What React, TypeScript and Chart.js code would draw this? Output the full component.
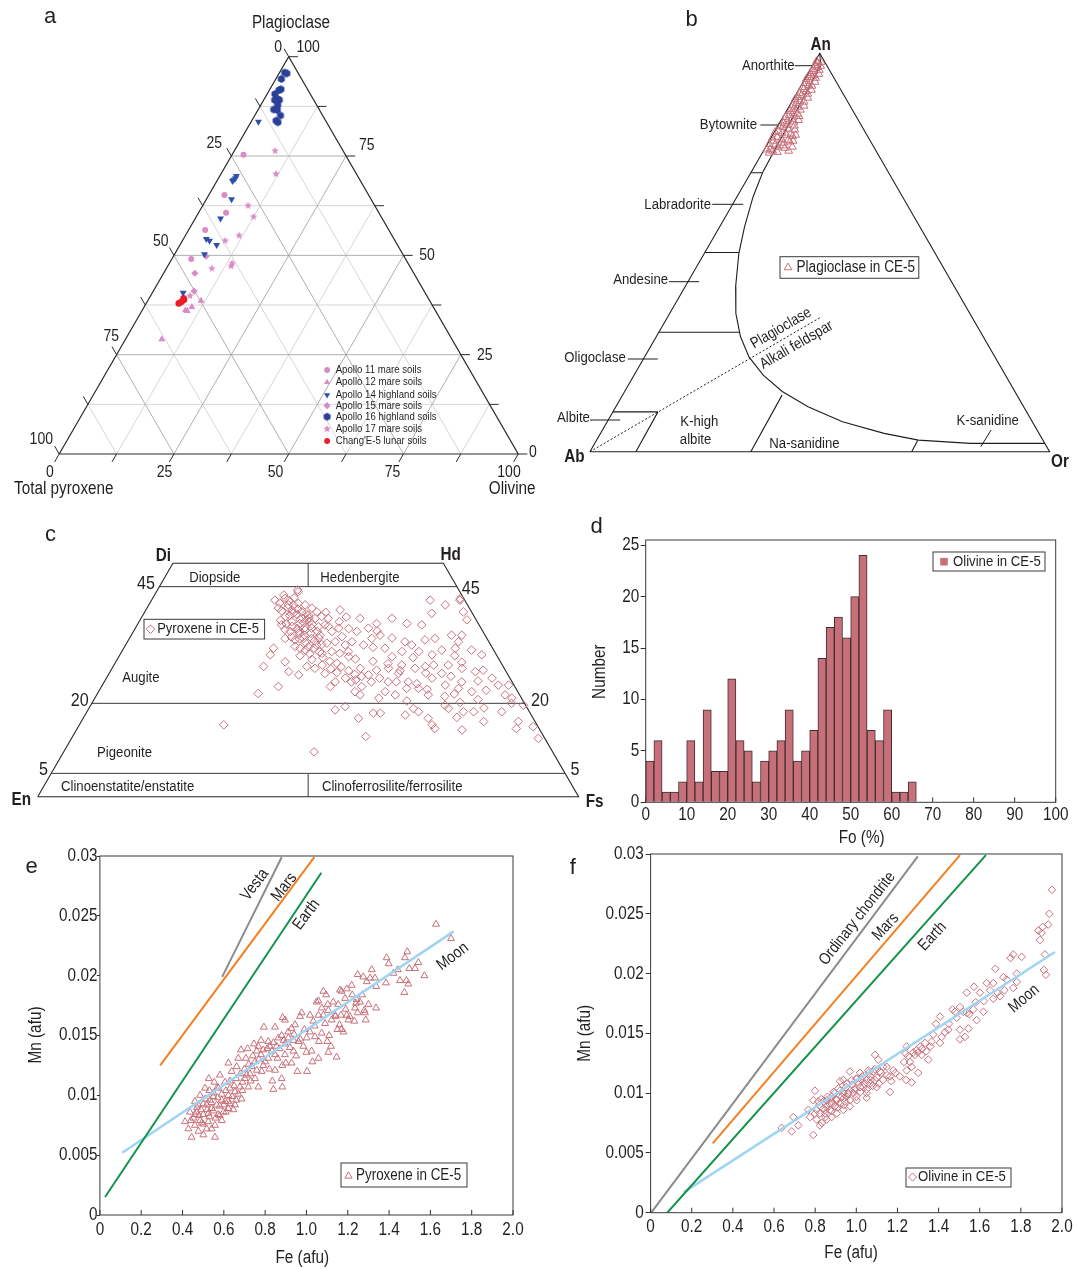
import React, { useEffect, useRef } from 'react';
import { Chart, registerables } from 'chart.js';

Chart.register(...registerables);

const W = 1082;
const H = 1269;

// ================= DATA =================
// Panel a: [plagioclase %, olivine %]
const ternaryLevels = [12.5, 25, 37.5, 50, 62.5, 75, 87.5];
const ternaryTickLevels = [0, 12.5, 25, 37.5, 50, 62.5, 75, 87.5, 100];
const apollo11 = [[75.3, 2.5], [65.2, 3.4], [60.7, 6.0], [56.4, 3.6], [49.1, 4.2]];
const apollo12 = [[38.6, 11.6], [37.0, 10.4], [36.2, 9.4], [36.0, 9.9], [28.9, 7.9]];
const apollo14 = [[83.6, 1.6], [70.0, 3.6], [69.4, 3.7], [69.0, 3.5], [68.7, 3.4], [64.1, 5.5], [59.3, 5.5], [54.1, 5.0], [53.7, 5.9], [52.6, 8.0], [50.3, 6.5], [40.6, 6.7]];
const apollo15 = [[49.8, 7.1], [45.5, 6.8], [41.0, 8.9]];
const apollo16 = [[96.0, 1.1], [95.8, 1.7], [94.4, 1.2], [91.8, 2.4], [91.6, 2.1], [90.6, 1.7], [89.3, 3.0], [89.1, 3.4], [89.1, 2.4], [87.8, 3.7], [86.7, 3.4], [86.6, 4.2], [85.2, 5.6], [83.9, 5.3], [83.5, 5.9]];
const apollo17 = [[76.3, 8.9], [70.5, 12.0], [62.5, 9.9], [59.7, 12.5], [55.0, 11.7], [53.7, 9.3], [48.0, 13.7], [47.3, 13.8], [46.7, 9.9], [39.8, 8.6]];
const ce5Soils = [[39.2, 7.5], [38.8, 7.8], [37.9, 7.1], [38.3, 7.5]];

// Panel b: [An %, Or %]
const plagioclaseCE5 = [[98, 0.3], [97.5, 0.8], [97, 0.5], [96.5, 1.2], [96, 0.6], [95.5, 1.0], [95, 0.4], [94.5, 1.5], [94, 0.8], [93.5, 0.3], [93, 1.2], [92.5, 0.7], [92, 1.6], [91.5, 0.5], [91, 1.0], [90.5, 1.8], [90, 0.6], [89.5, 1.3], [89, 0.9], [88.5, 0.4], [88, 1.6], [87.5, 1.1], [87, 0.7], [86.5, 2.0], [86, 1.3], [85.5, 0.8], [85, 1.7], [84.5, 1.1], [84, 0.6], [83.5, 2.2], [83, 1.4], [82.5, 0.9], [82, 1.9], [81.5, 1.2], [81, 2.6], [80.5, 0.8], [80, 1.8], [79.5, 3.0], [79, 1.3], [78.5, 2.4], [78, 0.9], [77.5, 3.4], [77, 1.8], [76.5, 2.6], [76, 1.2], [75.5, 2.0], [75, 1.5], [79.8, 3.8], [78.2, 4.0], [76.8, 3.6], [84.8, 2.8], [82.8, 3.0],
  [97.8, 1.4], [96.8, 1.8], [95.8, 2.0], [94.8, 2.4], [93.8, 2.2], [92.8, 2.6], [91.8, 2.4], [90.8, 2.8], [89.8, 2.5], [88.8, 3.0], [87.8, 2.7], [86.8, 3.2], [85.8, 2.9], [84.2, 3.4], [83.2, 3.8], [81.8, 3.6], [80.8, 4.2], [79.2, 4.5], [77.8, 4.6], [76.2, 4.3], [75.2, 3.2], [75.8, 0.6], [77.2, 0.4], [78.8, 0.3], [80.2, 0.2], [81.8, 0.4], [75.5, 5.5], [76.5, 5.8], [78, 5.2], [79.5, 5.0]];
const feldsparSolvus = [[100, 0], [97.1, 1.7], [86.6, 2.1], [77.4, 2.3], [70.3, 2.5], [64.0, 3.5], [56.5, 5.4], [49.8, 7.5], [41.4, 11.0], [34.7, 14.4], [28.9, 18.3], [23.8, 22.7], [19.2, 28.1], [15.1, 34.3], [11.3, 41.8], [7.5, 51.2], [4.6, 61.7], [2.9, 70.0], [2.1, 81.7], [2.1, 97.9]];
const plagTieAn = [70, 50, 30, 10];
const plagTieOrEnd = [2.5, 7.4, 17.5, 9.8];
const albiteBox = [[10, 9.8], [0, 10]];
const naSanidineLine = [[0, 35], [14.2, 34.7]];
const kSanidineLine = [[0, 70], [2.8, 69.9]];
const plagAlkaliDivide = [[0, 0], [33.7, 33.3]];

// Panel c: [Wo %, Fs %]
const pyxWoLevels = [45, 20, 5];
const pyroxeneCE5 = [[43.9, 26.2], [42.6, 26.1], [42.5, 24.5], [42.1, 22.8], [40.4, 24.3], [41.1, 25.8], [41.4, 27.5], [41.1, 28.9], [40.4, 30.5], [39.6, 31.8], [38.9, 30.6], [39.6, 29.0], [39.3, 27.6], [38.6, 26.5], [36.8, 26.7], [37.5, 28.2], [37.1, 29.9], [37.9, 30.8], [38.2, 32.2], [38.6, 33.2], [38.2, 34.6], [36.8, 34.7], [36.4, 33.7], [36.1, 32.6], [35.7, 31.6], [35.4, 30.5], [35.4, 29.0], [33.9, 28.8], [33.6, 30.8], [33.9, 32.2], [33.9, 33.7], [34.6, 34.9], [35.4, 36.7], [36.1, 37.6], [40.0, 35.9], [34.3, 39.1], [33.2, 38.4], [32.9, 37.0], [32.5, 35.3], [32.1, 34.0], [31.8, 32.6], [32.5, 40.6], [33.2, 41.5], [35.4, 41.3], [38.2, 40.5], [36.1, 43.1], [37.1, 44.1], [34.6, 46.0], [33.9, 44.8], [32.5, 44.0], [31.1, 41.9], [30.7, 40.5], [31.1, 38.8], [30.7, 37.2],
  [27.9, 27.8], [22.1, 29.7], [23.6, 32.7], [31.8, 27.7], [30.4, 27.8], [28.9, 31.3], [26.8, 33.0], [26.1, 35.2], [27.9, 35.8], [27.5, 37.5], [26.4, 39.9], [23.6, 42.3], [24.6, 42.7], [25.4, 44.2], [22.5, 47.4], [24.6, 45.7], [27.5, 45.9], [26.1, 48.1], [27.1, 49.1], [24.6, 49.4], [23.6, 48.1], [21.8, 48.7],
  [38.2, 46.4], [37.1, 49.7], [33.2, 51.3], [36.8, 52.6], [33.6, 54.8], [42.1, 51.5], [41.1, 54.8], [42.1, 57.0], [39.6, 58.9], [39.3, 53.2], [31.8, 48.3], [30.0, 50.5], [31.1, 51.8], [32.5, 52.9], [31.1, 54.9], [30.4, 57.7], [31.4, 59.0], [31.8, 61.3], [33.2, 61.2], [31.4, 64.5], [30.4, 66.9], [34.6, 61.1], [34.6, 59.2], [33.9, 56.5], [27.5, 51.1], [26.4, 53.5], [24.6, 56.2], [27.5, 56.0], [27.9, 57.7], [28.2, 59.1], [26.4, 61.5], [28.2, 61.8], [27.5, 64.7], [26.8, 67.5], [27.1, 68.8], [25.4, 71.3], [23.9, 73.2], [23.9, 75.1], [21.8, 75.5], [21.1, 77.1], [23.2, 58.8], [23.2, 56.6], [21.8, 55.2], [22.5, 53.0], [21.1, 52.5], [21.8, 61.3], [23.9, 63.4], [23.2, 66.2], [22.5, 69.0], [24.6, 66.1], [25.4, 60.2], [24.6, 52.5], [28.2, 53.2],
  [18.6, 45.7], [19.3, 47.2], [16.8, 50.9], [17.9, 53.1], [17.9, 54.4], [17.5, 59.2], [18.9, 60.0], [18.2, 61.3], [16.8, 63.8], [15.4, 65.2], [14.6, 66.1], [19.6, 65.5], [18.9, 66.5], [14.3, 71.3], [18.2, 69.6], [18.2, 71.5], [16.1, 74.4], [18.2, 76.7], [16.1, 80.8], [14.6, 81.2], [15.0, 84.1], [12.5, 86.3], [19.6, 80.0], [20.0, 77.6],
  [15.4, 26.7], [9.6, 46.3], [12.9, 54.2], [44.3, 25.9], [43.2, 23.9], [42.4, 56.9], [37.9, 60.4],
  [40.0, 27.0], [39.0, 28.5], [37.0, 27.5], [38.0, 29.5], [36.0, 30.0], [40.5, 26.0], [35.0, 33.0], [34.0, 35.0], [37.5, 31.5], [36.5, 35.5],
  [42.0, 25.5], [41.5, 24.0], [41.0, 26.8], [40.2, 28.0], [39.8, 25.2], [39.2, 30.0], [38.8, 27.2], [38.3, 31.0], [37.8, 26.0], [37.3, 30.5], [36.9, 32.3], [36.5, 28.8], [36.2, 31.3], [35.8, 27.8], [35.4, 34.0], [35.0, 30.8], [34.6, 32.0], [34.2, 29.8], [33.8, 31.5], [33.4, 34.5], [33.0, 33.0], [32.6, 36.2], [32.2, 31.5], [31.8, 35.2], [31.4, 33.8], [31.0, 36.6], [30.6, 35.0], [30.2, 33.4], [29.8, 37.8], [29.4, 36.0], [29.0, 39.5], [28.6, 41.0], [28.2, 38.5], [27.8, 42.2], [27.4, 40.5], [27.0, 44.0], [26.6, 42.0], [26.2, 45.5], [25.8, 47.0], [25.4, 50.5], [25.0, 46.3], [24.6, 54.0], [24.2, 58.0], [29.5, 44.0], [29.0, 47.5], [28.5, 50.5], [29.8, 54.5], [30.2, 62.0], [28.8, 64.0], [26.5, 58.5], [25.8, 63.5], [24.8, 69.0], [22.8, 71.5], [20.8, 71.0], [21.5, 64.5], [20.5, 58.0], [20.2, 68.0], [19.0, 73.0], [17.0, 69.0], [34.0, 48.5], [35.5, 45.0], [36.0, 39.5], [37.5, 37.0], [38.5, 37.8], [39.5, 33.5], [30.0, 42.5], [32.0, 46.0], [27.0, 53.5], [23.0, 60.5], [22.0, 66.0]];

// Panel d: olivine Fo histogram (2 % bins)
const foBinStart = [0, 2, 4, 6, 8, 10, 12, 14, 16, 18, 20, 22, 24, 26, 28, 30, 32, 34, 36, 38, 40, 42, 44, 46, 48, 50, 52, 54, 56, 58, 60, 62, 64];
const olivineCounts = [4, 6, 1, 1, 2, 6, 2, 9, 3, 3, 12, 6, 5, 2, 4, 5, 6, 9, 4, 5, 7, 14, 17, 18, 16, 20, 24, 7, 6, 9, 1, 1, 2];

// Panel e: pyroxene [Fe afu, Mn afu]
const vestaE = [[0.592, 0.0199], [0.880, 0.0299]];
const marsE = [[0.292, 0.0125], [1.038, 0.0299]];
const earthE = [[0.025, 0.0015], [1.072, 0.0286]];
const moonE = [[0.108, 0.0052], [1.713, 0.0237]];
const pyroxeneFeMn = [[1.627, 0.0243], [1.700, 0.0231], [1.388, 0.0215], [1.477, 0.0215], [1.488, 0.0220], [1.398, 0.0210], [1.542, 0.0211], [1.571, 0.0200], [1.474, 0.0186], [1.493, 0.0193], [1.484, 0.0196], [1.338, 0.0191], [1.385, 0.0194], [1.421, 0.0202], [1.442, 0.0205], [1.498, 0.0206], [1.526, 0.0206], [1.453, 0.0196], [1.332, 0.0198], [1.316, 0.0205], [1.275, 0.0199], [1.248, 0.0201], [1.308, 0.0198], [1.292, 0.0195], [1.219, 0.0192], [1.195, 0.0189], [1.170, 0.0187], [1.162, 0.0188], [1.095, 0.0184], [1.082, 0.0187], [1.058, 0.0179], [1.049, 0.0178], [1.103, 0.0176], [1.074, 0.0173], [1.130, 0.0178], [1.154, 0.0176], [1.187, 0.0181], [1.222, 0.0184], [1.243, 0.0180], [1.259, 0.0178], [1.280, 0.0171], [1.287, 0.0163], [1.232, 0.0162], [1.203, 0.0163], [1.170, 0.0155], [1.337, 0.0173], [1.283, 0.0169], [1.248, 0.0169], [1.167, 0.0167], [1.138, 0.0167], [1.122, 0.0163], [1.106, 0.0171], [1.082, 0.0167], [1.058, 0.0167], [1.033, 0.0162], [1.017, 0.0167], [0.977, 0.0169], [0.969, 0.0166], [0.885, 0.0165], [0.896, 0.0163], [0.794, 0.0157], [0.848, 0.0157], [0.928, 0.0156], [0.945, 0.0159], [0.912, 0.0153], [0.880, 0.0150], [0.864, 0.0148], [0.815, 0.0145], [0.780, 0.0146], [0.746, 0.0143], [0.715, 0.0139], [0.683, 0.0138], [0.670, 0.0131], [0.707, 0.0131], [0.759, 0.0137], [0.791, 0.0138], [0.832, 0.0137], [0.856, 0.0141], [0.896, 0.0143], [0.937, 0.0146], [0.961, 0.0145], [1.001, 0.0148], [1.017, 0.0153], [1.041, 0.0149], [1.074, 0.0152], [1.101, 0.0145], [1.119, 0.0141], [1.150, 0.0155], [1.179, 0.0153], [0.985, 0.0141], [1.025, 0.0137], [1.058, 0.0131], [1.106, 0.0136], [1.146, 0.0132], [1.029, 0.0128], [1.003, 0.0120], [0.956, 0.0120], [0.928, 0.0127], [0.883, 0.0125], [0.848, 0.0121], [0.835, 0.0112], [0.880, 0.0114], [0.883, 0.0107], [0.840, 0.0105], [0.767, 0.0107], [0.751, 0.0114], [0.727, 0.0118], [0.702, 0.0114], [0.678, 0.0107], [0.654, 0.0103], [0.622, 0.0100], [0.606, 0.0111], [0.573, 0.0106], [0.527, 0.0114], [0.554, 0.0111], [0.509, 0.0106], [0.485, 0.0100], [0.460, 0.0095], [0.436, 0.0086], [0.412, 0.0078], [0.444, 0.0065], [0.477, 0.0070], [0.557, 0.0065], [0.525, 0.0078], [0.573, 0.0084], [0.622, 0.0089], [0.654, 0.0092], [0.606, 0.0095], [0.541, 0.0089], [0.501, 0.0084], [0.469, 0.0086], [0.557, 0.0075], [0.517, 0.0072], [0.590, 0.0079], [0.646, 0.0088], [0.686, 0.0097], [0.719, 0.0107], [0.791, 0.0125], [0.815, 0.0131], [0.751, 0.0128], [0.783, 0.0120], [0.638, 0.0120], [0.622, 0.0127], [0.662, 0.0124], [0.581, 0.0117], [0.549, 0.0099], [0.590, 0.0096], [0.452, 0.0081], [0.493, 0.0077], [0.533, 0.0096], [0.477, 0.0092], [0.517, 0.0092], [0.428, 0.0072], [0.460, 0.0075], [0.501, 0.0067], [0.541, 0.0072], [0.525, 0.0085], [0.565, 0.0092], [0.485, 0.0079], [0.598, 0.0086], [0.630, 0.0106], [0.735, 0.0124], [0.896, 0.0134], [0.937, 0.0137], [0.767, 0.0141], [0.823, 0.0141], [0.912, 0.0148], [0.848, 0.0134], [1.235, 0.0173], [1.195, 0.0167],
  [0.47, 0.0090], [0.49, 0.0088], [0.50, 0.0093], [0.52, 0.0088], [0.53, 0.0082], [0.54, 0.0094], [0.55, 0.0087], [0.56, 0.0081], [0.57, 0.0098], [0.58, 0.0091], [0.59, 0.0101], [0.60, 0.0092], [0.61, 0.0104], [0.62, 0.0095], [0.63, 0.0112], [0.64, 0.0099], [0.65, 0.0108], [0.66, 0.0114], [0.67, 0.0101], [0.68, 0.0118], [0.69, 0.0111], [0.70, 0.0122], [0.71, 0.0117], [0.72, 0.0126], [0.73, 0.0112], [0.74, 0.0133], [0.76, 0.0121], [0.77, 0.0130], [0.78, 0.0134], [0.80, 0.0128], [0.81, 0.0139], [0.82, 0.0122], [0.84, 0.0144], [0.86, 0.0131], [0.87, 0.0139], [0.89, 0.0146], [0.90, 0.0127], [0.92, 0.0140], [0.94, 0.0151], [0.95, 0.0133], [0.97, 0.0147], [0.99, 0.0155], [1.00, 0.0136], [1.04, 0.0158], [1.06, 0.0145], [1.09, 0.0160], [1.11, 0.0150], [1.14, 0.0166], [1.16, 0.0159], [1.19, 0.0172], [1.21, 0.0166], [1.24, 0.0177], [1.27, 0.0184], [1.30, 0.0176], [0.48, 0.0083], [0.51, 0.0097], [0.55, 0.0102], [0.58, 0.0083], [0.61, 0.0086], [0.44, 0.0079], [0.46, 0.0084], [0.50, 0.0076], [0.53, 0.0104], [0.57, 0.0107], [0.63, 0.0093], [0.66, 0.0096], [0.69, 0.0104]];

// Panel f: olivine [Fe afu, Mn afu]
const chondriteF = [[0.003, 0.0], [1.299, 0.0298]];
const marsF = [[0.302, 0.0058], [1.504, 0.0299]];
const earthF = [[0.081, 0.0], [1.630, 0.0299]];
const moonF = [[0.160, 0.0017], [1.966, 0.0218]];
const olivineFeMn = [[1.951, 0.0270], [1.938, 0.0250], [1.933, 0.0241], [1.906, 0.0239], [1.901, 0.0234], [1.893, 0.0228], [1.922, 0.0199], [1.912, 0.0203], [1.917, 0.0216], [1.885, 0.0236], [1.804, 0.0214], [1.750, 0.0213], [1.763, 0.0216], [1.676, 0.0204], [1.715, 0.0197], [1.780, 0.0193], [1.763, 0.0188], [1.731, 0.0195], [1.666, 0.0192], [1.634, 0.0192], [1.650, 0.0186], [1.686, 0.0184], [1.699, 0.0181], [1.666, 0.0179], [1.601, 0.0184], [1.572, 0.0189], [1.537, 0.0184], [1.569, 0.0170], [1.537, 0.0167], [1.585, 0.0161], [1.618, 0.0168], [1.520, 0.0168], [1.480, 0.0168], [1.504, 0.0172], [1.468, 0.0170], [1.488, 0.0163], [1.407, 0.0164], [1.387, 0.0158], [1.431, 0.0151], [1.447, 0.0153], [1.415, 0.0147], [1.374, 0.0149], [1.504, 0.0153], [1.545, 0.0154], [1.528, 0.0147], [1.504, 0.0145], [1.366, 0.0143], [1.407, 0.0142], [1.334, 0.0142], [1.310, 0.0139], [1.293, 0.0136], [1.285, 0.0132], [1.245, 0.0139], [1.253, 0.0131], [1.261, 0.0126], [1.269, 0.0122], [1.301, 0.0117], [1.350, 0.0128], [1.318, 0.0132], [1.277, 0.0134], [1.245, 0.0119], [1.242, 0.0111], [1.212, 0.0114], [1.180, 0.0119], [1.164, 0.0114], [1.148, 0.0122], [1.164, 0.0101], [1.091, 0.0132], [1.107, 0.0128], [1.131, 0.0122], [1.115, 0.0118], [1.083, 0.0118], [1.067, 0.0114], [1.050, 0.0111], [1.018, 0.0117], [1.002, 0.0112], [0.969, 0.0118], [0.977, 0.0111], [0.953, 0.0108], [0.937, 0.0111], [0.921, 0.0110], [0.913, 0.0104], [0.896, 0.0100], [0.880, 0.0097], [0.856, 0.0094], [0.840, 0.0093], [0.815, 0.0093], [0.799, 0.0102], [0.791, 0.0094], [0.807, 0.0086], [0.823, 0.0083], [0.848, 0.0083], [0.872, 0.0086], [0.896, 0.0089], [0.921, 0.0091], [0.945, 0.0093], [0.961, 0.0100], [0.986, 0.0100], [1.018, 0.0105], [1.034, 0.0105], [1.067, 0.0108], [1.091, 0.0111], [1.099, 0.0105], [1.050, 0.0100], [1.002, 0.0094], [0.969, 0.0089], [0.937, 0.0086], [0.905, 0.0083], [0.880, 0.0080], [0.856, 0.0078], [0.832, 0.0075], [0.807, 0.0078], [0.823, 0.0073], [0.791, 0.0065], [0.718, 0.0073], [0.694, 0.0080], [0.686, 0.0068], [0.637, 0.0071], [0.767, 0.0086], [0.775, 0.0080], [0.799, 0.0083], [0.856, 0.0089], [0.905, 0.0094], [0.953, 0.0097], [0.994, 0.0104], [1.026, 0.0111], [1.058, 0.0119], [0.937, 0.0100], [0.880, 0.0091], [0.848, 0.0086], [1.269, 0.0109], [1.232, 0.0126], [1.240, 0.0133],
  [0.82, 0.0090], [0.84, 0.0087], [0.86, 0.0097], [0.87, 0.0091], [0.88, 0.0085], [0.89, 0.0101], [0.90, 0.0095], [0.91, 0.0088], [0.92, 0.0102], [0.93, 0.0097], [0.94, 0.0090], [0.95, 0.0105], [0.96, 0.0099], [0.97, 0.0094], [0.98, 0.0107], [0.99, 0.0103], [1.00, 0.0097], [1.01, 0.0109], [1.02, 0.0101], [1.03, 0.0114], [1.04, 0.0108], [1.05, 0.0103], [1.06, 0.0117], [1.07, 0.0111], [1.08, 0.0106], [1.09, 0.0120], [1.10, 0.0113], [1.11, 0.0108], [1.12, 0.0117], [1.13, 0.0111], [1.15, 0.0115], [1.17, 0.0110], [0.85, 0.0080], [0.83, 0.0095], [0.88, 0.0093], [0.94, 0.0096], [1.00, 0.0112], [1.05, 0.0096], [1.19, 0.0117], [1.32, 0.0137], [1.34, 0.0135], [1.30, 0.0134], [1.36, 0.0139], [1.45, 0.0158], [1.55, 0.0166], [1.58, 0.0176], [1.62, 0.0177], [1.72, 0.0186], [1.78, 0.0200]];

// ================= STYLE =================
const ROSE = '#c8707a';
const PINK = '#d98bc6';
const BLUE14 = '#2f4fae';
const NAVY16 = '#2a3f97';
const RED = '#ee1d25';
const TXT = '#231f20';
const GRAY_L = '#8c8c8c';
const ORANGE = '#f47f20';
const GREEN = '#13924a';
const SKY = '#9fd4f2';

let FONT = '"Liberation Sans", Arial, sans-serif';
const REG = '"Liberation Sans", Arial, sans-serif';
let SX = 0.85; // horizontal condensing when no narrow font is installed

function hasFont(name: string): boolean {
  const c = document.createElement('canvas').getContext('2d') as CanvasRenderingContext2D;
  const s = 'mmmmmmmmmmlli1WQ0.5abcdefgh';
  c.font = `40px "${name}", monospace`;
  const a = c.measureText(s).width;
  c.font = `40px "${name}", serif`;
  const b = c.measureText(s).width;
  c.font = '40px monospace';
  const m = c.measureText(s).width;
  return Math.abs(a - b) < 0.01 && Math.abs(a - m) > 0.01;
}
function setupFonts() {
  const cands = ['Liberation Sans Narrow', 'Arial Narrow', 'Nimbus Sans Narrow'];
  for (const c of cands) {
    if (hasFont(c)) { FONT = `"${c}", "Liberation Sans", sans-serif`; SX = 1; return; }
  }
}

type TOpt = { align?: CanvasTextAlign; bold?: boolean; rot?: number; color?: string; reg?: boolean; base?: CanvasTextBaseline };
function T(ctx: CanvasRenderingContext2D, s: string, x: number, y: number, size: number, o: TOpt = {}) {
  ctx.save();
  ctx.translate(x, y);
  if (o.rot) ctx.rotate((o.rot * Math.PI) / 180);
  if (!o.reg && SX !== 1) ctx.scale(SX, 1);
  ctx.font = `${o.bold ? 'bold ' : ''}${size}px ${o.reg ? REG : FONT}`;
  ctx.fillStyle = o.color || TXT;
  ctx.textAlign = o.align || 'center';
  ctx.textBaseline = o.base || 'middle';
  ctx.fillText(s, 0, 0);
  ctx.restore();
}
function L(ctx: CanvasRenderingContext2D, x1: number, y1: number, x2: number, y2: number, color = TXT, w = 1) {
  ctx.save();
  ctx.strokeStyle = color;
  ctx.lineWidth = w;
  ctx.beginPath();
  ctx.moveTo(x1, y1);
  ctx.lineTo(x2, y2);
  ctx.stroke();
  ctx.restore();
}
function box(ctx: CanvasRenderingContext2D, x1: number, y1: number, x2: number, y2: number) {
  ctx.save();
  ctx.strokeStyle = '#3a3a3a';
  ctx.lineWidth = 1;
  ctx.strokeRect(x1, y1, x2 - x1, y2 - y1);
  ctx.restore();
}
function mark(ctx: CanvasRenderingContext2D, kind: any, x: number, y: number, r: number, color: string, filled: boolean) {
  ctx.save();
  if (typeof kind !== 'string') {
    ctx.drawImage(kind, x - kind.width / 2, y - kind.height / 2);
    ctx.restore();
    return;
  }
  ctx.beginPath();
  if (kind === 'circle') ctx.arc(x, y, r, 0, Math.PI * 2);
  else if (kind === 'tri') { ctx.moveTo(x, y - r); ctx.lineTo(x + r * 0.866, y + r * 0.5); ctx.lineTo(x - r * 0.866, y + r * 0.5); ctx.closePath(); }
  else if (kind === 'tridown') { ctx.moveTo(x, y + r); ctx.lineTo(x + r * 0.866, y - r * 0.5); ctx.lineTo(x - r * 0.866, y - r * 0.5); ctx.closePath(); }
  else if (kind === 'diamond') { ctx.moveTo(x, y - r); ctx.lineTo(x + r, y); ctx.lineTo(x, y + r); ctx.lineTo(x - r, y); ctx.closePath(); }
  else if (kind === 'square') ctx.rect(x - r, y - r, 2 * r, 2 * r);
  if (filled) { ctx.fillStyle = color; ctx.fill(); } else { ctx.strokeStyle = color; ctx.lineWidth = 1; ctx.stroke(); }
  ctx.restore();
}
function makeStar(color: string, r: number) {
  const c = document.createElement('canvas');
  const s = Math.ceil(r * 2 + 2);
  c.width = s; c.height = s;
  const g = c.getContext('2d') as CanvasRenderingContext2D;
  g.fillStyle = color;
  g.beginPath();
  for (let i = 0; i < 10; i++) {
    const a = -Math.PI / 2 + (i * Math.PI) / 5;
    const rr = i % 2 === 0 ? r : r * 0.45;
    g.lineTo(s / 2 + rr * Math.cos(a), s / 2 + rr * Math.sin(a));
  }
  g.closePath();
  g.fill();
  return c;
}
function makePoly(color: string, r: number, n: number) {
  const c = document.createElement('canvas');
  const s = Math.ceil(r * 2 + 2);
  c.width = s; c.height = s;
  const g = c.getContext('2d') as CanvasRenderingContext2D;
  g.fillStyle = color;
  g.beginPath();
  for (let i = 0; i < n; i++) {
    const a = -Math.PI / 2 + (i * 2 * Math.PI) / n;
    g.lineTo(s / 2 + r * Math.cos(a), s / 2 + r * Math.sin(a));
  }
  g.closePath();
  g.fill();
  return c;
}

// ================= CHART HELPERS =================
type P = { x: number; y: number };
function joinSegs(segs: P[][]): P[] {
  const out: P[] = [];
  segs.forEach((s, i) => { if (i) out.push({ x: NaN, y: NaN }); out.push(...s); });
  return out;
}
function lineSet(data: P[], color: string, width: number, order = 5, dash: number[] = [], clip: any = false) {
  return { type: 'scatter', data, showLine: true, borderColor: color, backgroundColor: color, borderWidth: width, pointRadius: 0, pointHoverRadius: 0, pointHitRadius: 0, borderDash: dash, fill: false, tension: 0, clip, order, spanGaps: false };
}
function pointSet(data: P[], style: any, radius: number, color: string, filled: boolean, order = 0, extra: any = {}) {
  return { type: 'scatter', data, showLine: false, pointStyle: style, pointRadius: radius, pointHoverRadius: radius, backgroundColor: filled ? color : 'rgba(0,0,0,0)', borderColor: color, borderWidth: filled ? 0 : 1, clip: false, order, ...extra };
}
function baseOpts(padding: any, scales: any) {
  return {
    responsive: false, maintainAspectRatio: false, animation: false, devicePixelRatio: 1, events: [],
    layout: { padding },
    plugins: { legend: { display: false }, tooltip: { enabled: false } },
    scales,
  };
}
const hid = (min: number, max: number) => ({ type: 'linear', display: false, min, max });
function drawPlugin(id: string, fn: (chart: any, ctx: CanvasRenderingContext2D) => void, before?: (chart: any, ctx: CanvasRenderingContext2D) => void) {
  return {
    id,
    beforeDatasetsDraw(chart: any) { if (before) { const ctx = chart.ctx; ctx.save(); before(chart, ctx); ctx.restore(); } },
    afterDraw(chart: any) { const ctx = chart.ctx; ctx.save(); fn(chart, ctx); ctx.restore(); },
  };
}
function xAxis(min: number, max: number, step: number) {
  return {
    type: 'linear', min, max, offset: false,
    ticks: { stepSize: step, autoSkip: false, maxRotation: 0, minRotation: 0, display: false, includeBounds: false },
    grid: { display: false, drawTicks: false, offset: false },
    border: { display: false },
    afterFit: (s: any) => { s.height = 30; s.paddingLeft = 0; s.paddingRight = 0; },
  };
}
function yAxis(min: number, max: number, step: number, tl: number, width: number) {
  return {
    type: 'linear', min, max,
    ticks: { stepSize: step, autoSkip: false, display: false, includeBounds: false },
    grid: { drawOnChartArea: false, drawTicks: true, tickLength: tl, color: '#333', lineWidth: 1 },
    border: { display: false },
    afterFit: (s: any) => { s.width = width; s.paddingTop = 0; s.paddingBottom = 0; },
  };
}
function tickLabels(chart: any, ctx: CanvasRenderingContext2D, fx: (v: number) => string, fy: (v: number) => string, xOff: number, yGap: number) {
  const a = chart.chartArea;
  const xs = chart.scales.x, ys = chart.scales.y;
  xs.ticks.forEach((t: any) => T(ctx, fx(t.value), xs.getPixelForValue(t.value), a.bottom + xOff, 18));
  ys.ticks.forEach((t: any) => T(ctx, fy(t.value), a.left - yGap, ys.getPixelForValue(t.value), 18, { align: 'right' }));
}
function innerXTicks(chart: any, ctx: CanvasRenderingContext2D, len: number) {
  const a = chart.chartArea;
  const xs = chart.scales.x;
  xs.ticks.forEach((t: any) => {
    const p = xs.getPixelForValue(t.value);
    L(ctx, p, a.bottom, p, a.bottom - len, '#333', 1);
  });
}
function frame(chart: any, ctx: CanvasRenderingContext2D) {
  const a = chart.chartArea;
  box(ctx, a.left, a.top, a.right, a.bottom);
}

// ================= PANEL A =================
const tA = (p: number, o: number): P => ({ x: o + p / 2, y: p });
function buildA(cv: HTMLCanvasElement) {
  const major: P[][] = [];
  const minor: P[][] = [];
  ternaryLevels.forEach((v) => {
    const segs = [[tA(v, 0), tA(v, 100 - v)], [tA(0, v), tA(100 - v, v)], [tA(0, 100 - v), tA(100 - v, 0)]];
    (v % 25 === 0 ? major : minor).push(...segs);
  });
  const t = 2;
  const ticks: P[][] = [];
  ternaryTickLevels.forEach((v) => {
    ticks.push([tA(100 - v, 0), tA(100 - v + t, -t)]);
    ticks.push([tA(v, 100 - v), tA(v, 100 - v + t)]);
    ticks.push([tA(0, v), tA(-t, v)]);
  });
  const outline = [tA(0, 0), tA(0, 100), tA(100, 0), tA(0, 0)];
  const star = makeStar(PINK, 4);
  const hex = makePoly(NAVY16, 4, 6);
  const toP = (arr: number[][]) => arr.map(([p, o]) => tA(p, o));
  const datasets = [
    pointSet(toP(apollo16), hex, 4, NAVY16, true, 0),
    pointSet(toP(apollo14), 'triangle', 4, BLUE14, true, 0, { pointRotation: 180 }),
    pointSet(toP(apollo11), 'circle', 3, PINK, true, 0),
    pointSet(toP(apollo12), 'triangle', 4, PINK, true, 0),
    pointSet(toP(apollo15), 'rectRot', 3.6, PINK, true, 0),
    pointSet(toP(apollo17), star, 4, PINK, true, 0),
    pointSet(toP(ce5Soils), 'circle', 3.3, RED, true, 0),
    lineSet(outline, '#2a2a2a', 1.2, 2),
    lineSet(joinSegs(ticks), '#2a2a2a', 1, 3),
    lineSet(joinSegs(major), '#a6a6a6', 0.9, 4),
    lineSet(joinSegs(minor), '#d2d2d2', 0.9, 5),
  ];
  const legendRows: [any, string, string, number][] = [
    ['circle', PINK, 'Apollo 11 mare soils', 370],
    ['tri', PINK, 'Apollo 12 mare soils', 382.3],
    ['tridown', BLUE14, 'Apollo 14 highland soils', 395],
    ['diamond', PINK, 'Apollo 15 mare soils', 405.7],
    [hex, NAVY16, 'Apollo 16 highland soils', 416.7],
    [star, PINK, 'Apollo 17 mare soils', 429],
    ['circle', RED, "Chang'E-5 lunar soils", 441],
  ];
  return new Chart(cv, {
    type: 'scatter',
    data: { datasets } as any,
    options: baseOpts({ left: 59.2, right: W - 518.2, top: 56.7, bottom: H - 454 }, { x: hid(0, 100), y: hid(0, 100) }) as any,
    plugins: [drawPlugin('labA', (chart, ctx) => {
      T(ctx, 'a', 50, 17, 22, { reg: true });
      T(ctx, 'Plagioclase', 291, 23.3, 18);
      T(ctx, '0', 278.2, 47.7, 16.5);
      T(ctx, '100', 308.2, 47.7, 16.5);
      const left: [string, number, number][] = [['25', 214.2, 143.3], ['50', 160.8, 241.7], ['75', 111.2, 336], ['100', 41.3, 439]];
      const right: [string, number, number][] = [['75', 366.7, 145], ['50', 427, 255], ['25', 484.8, 355], ['0', 533, 452.7]];
      const bottom: [string, number, number][] = [['0', 50, 472.7], ['25', 164.6, 472.7], ['50', 275.5, 472.7], ['75', 392.6, 472.7], ['100', 509, 472.7]];
      [...left, ...right, ...bottom].forEach(([s, x, y]) => T(ctx, s, x, y, 16.5));
      T(ctx, 'Total pyroxene', 63.8, 489.3, 18);
      T(ctx, 'Olivine', 512.2, 489.3, 18);
      legendRows.forEach(([k, col, s, y]) => {
        mark(ctx, k, 327.1, y, k === 'circle' ? 2.9 : 3.6, col, true);
        T(ctx, s, 335.7, y, 11.3, { align: 'left' });
      });
    })],
  });
}

// ================= PANEL B =================
const tB = (an: number, or: number): P => ({ x: or + an / 2, y: an });
function buildB(cv: HTMLCanvasElement) {
  const outline = [tB(0, 0), tB(0, 100), tB(100, 0), tB(0, 0)];
  const ties = plagTieAn.map((an, i) => [tB(an, 0), tB(an, plagTieOrEnd[i])]);
  const segs = [
    ...ties,
    albiteBox.map(([a, o]) => tB(a, o)),
    naSanidineLine.map(([a, o]) => tB(a, o)),
    kSanidineLine.map(([a, o]) => tB(a, o)),
  ];
  const datasets = [
    pointSet(plagioclaseCE5.map(([a, o]) => tB(a, o)), 'triangle', 4.5, ROSE, false, 0),
    lineSet(outline, '#1e1e1e', 1.1, 2),
    lineSet(feldsparSolvus.map(([a, o]) => tB(a, o)), '#1e1e1e', 1.1, 2),
    lineSet(joinSegs(segs), '#1e1e1e', 1.1, 2),
    lineSet(plagAlkaliDivide.map(([a, o]) => tB(a, o)), '#1e1e1e', 1, 3, [2, 2]),
  ];
  return new Chart(cv, {
    type: 'scatter',
    data: { datasets } as any,
    options: baseOpts({ left: 589.9, right: W - 1049.6, top: 53.3, bottom: H - 451.7 }, { x: hid(0, 100), y: hid(0, 100) }) as any,
    plugins: [drawPlugin('labB', (chart, ctx) => {
      T(ctx, 'b', 691.5, 20, 22, { reg: true });
      T(ctx, 'An', 820.6, 45, 18, { bold: true });
      T(ctx, 'Ab', 574.4, 456.7, 18, { bold: true });
      T(ctx, 'Or', 1060, 461.7, 18, { bold: true });
      const lab: [string, number, number, number, number, number][] = [
        ['Anorthite', 768.3, 65.7, 794.8, 812, 65.7],
        ['Bytownite', 728.4, 125, 760.4, 777.6, 125],
        ['Labradorite', 677.7, 204.3, 712.2, 743.2, 204.3],
        ['Andesine', 640.6, 279.3, 669.1, 699.1, 281.7],
        ['Oligoclase', 595.1, 357.7, 627.8, 657.8, 359],
        ['Albite', 573.4, 417.3, 589.9, 620.2, 420],
      ];
      lab.forEach(([s, x, y, x1, x2, ly]) => { T(ctx, s, x, y, 15.5); L(ctx, x1, ly, x2, ly, '#1e1e1e', 1); });
      T(ctx, 'K-high', 699.4, 421.7, 15.5);
      T(ctx, 'albite', 695.6, 439.3, 15.5);
      T(ctx, 'Na-sanidine', 804.5, 443.3, 15.5);
      T(ctx, 'K-sanidine', 987.7, 420.7, 15.5);
      L(ctx, 980.8, 446.7, 991.1, 430, '#1e1e1e', 1);
      T(ctx, 'Plagioclase', 781, 328.3, 15.5, { rot: -30 });
      T(ctx, 'Alkali feldspar', 796.5, 345, 15.5, { rot: -30 });
      ctx.save(); ctx.fillStyle = '#fff'; ctx.fillRect(780, 256.7, 138.8, 21.6); ctx.restore();
      box(ctx, 780, 256.7, 918.8, 278.3);
      mark(ctx, 'tri', 788, 267.5, 4.5, ROSE, false);
      T(ctx, 'Plagioclase in CE-5', 796.5, 267.3, 16, { align: 'left' });
    })],
  });
}

// ================= PANEL C =================
const tC = (wo: number, fs: number): P => ({ x: fs + wo / 2, y: wo });
function buildC(cv: HTMLCanvasElement) {
  const outline = [tC(0, 0), tC(0, 100), tC(50, 50), tC(50, 0), tC(0, 0)];
  const inner = joinSegs([
    ...pyxWoLevels.map((w) => [tC(w, 0), tC(w, 100 - w)]),
    [tC(45, 27.5), tC(50, 25)],
    [tC(0, 50), tC(5, 47.5)],
  ]);
  const datasets = [
    pointSet(pyroxeneCE5.map(([w, f]) => tC(w, f)), 'rectRot', 4.3, ROSE, false, 0),
    lineSet(outline, '#262626', 1.1, 2),
    lineSet(inner, '#3a3a3a', 1, 3),
  ];
  return new Chart(cv, {
    type: 'scatter',
    data: { datasets } as any,
    options: baseOpts({ left: 37.7, right: W - 578.6, top: 563.3, bottom: H - 796.7 }, { x: hid(0, 100), y: hid(0, 50) }) as any,
    plugins: [drawPlugin('labC', (chart, ctx) => {
      T(ctx, 'c', 50.6, 535, 22, { reg: true });
      T(ctx, 'Di', 163.4, 556, 18, { bold: true });
      T(ctx, 'Hd', 450.6, 555, 18, { bold: true });
      T(ctx, 'En', 21.4, 800, 18, { bold: true });
      T(ctx, 'Fs', 594.6, 801.7, 18, { bold: true });
      const nums: [string, number, number][] = [['45', 145.9, 583.3], ['45', 470.8, 588.3], ['20', 79.8, 700.7], ['20', 540.1, 700.7], ['5', 43.6, 769.3], ['5', 575.1, 769.3]];
      nums.forEach(([s, x, y]) => T(ctx, s, x, y, 19));
      T(ctx, 'Diopside', 214.8, 577.3, 15.5);
      T(ctx, 'Hedenbergite', 359.9, 577.3, 15.5);
      T(ctx, 'Augite', 140.9, 677.3, 15.5);
      T(ctx, 'Pigeonite', 124.5, 752.7, 15.5);
      T(ctx, 'Clinoenstatite/enstatite', 127.6, 786.7, 15.5);
      T(ctx, 'Clinoferrosilite/ferrosilite', 392.2, 786.7, 15.5);
      ctx.save(); ctx.fillStyle = '#fff'; ctx.fillRect(144, 619.3, 120.6, 19.7); ctx.restore();
      box(ctx, 144, 619.3, 264.6, 639);
      mark(ctx, 'diamond', 150.5, 629.2, 4.3, ROSE, false);
      T(ctx, 'Pyroxene in CE-5', 157.2, 629.2, 15.3, { align: 'left' });
    })],
  });
}

// ================= PANEL D =================
function buildD(cv: HTMLCanvasElement) {
  return new Chart(cv, {
    type: 'bar',
    data: {
      datasets: [{
        data: foBinStart.map((b, i) => ({ x: b + 1, y: olivineCounts[i] })),
        backgroundColor: ROSE, borderColor: '#3d2f31', borderWidth: 1, barPercentage: 1, categoryPercentage: 1, borderSkipped: 'start',
      }],
    } as any,
    options: baseOpts({ left: 600.7, right: 26.3, top: 540, bottom: 436.7 }, {
      x: xAxis(0, 100, 10),
      y: yAxis(0, 25.5, 5, 5, 45),
    }) as any,
    plugins: [drawPlugin('labD', (chart, ctx) => {
      frame(chart, ctx);
      tickLabels(chart, ctx, (v) => String(v), (v) => String(v), 12.7, 6.4);
      T(ctx, 'd', 596.7, 526.7, 22, { reg: true });
      T(ctx, 'Number', 600, 671.7, 18, { rot: -90 });
      T(ctx, 'Fo (%)', 861.7, 838.3, 18);
      box(ctx, 933, 552, 1045, 571);
      mark(ctx, 'square', 944, 561.7, 3.8, ROSE, true);
      T(ctx, 'Olivine in CE-5', 953, 561.5, 15.5, { align: 'left' });
    }, (chart, ctx) => innerXTicks(chart, ctx, 5))],
  });
}

// ================= PANELS E & F =================
const fmtFe = (v: number) => (v === 0 ? '0' : Number(v).toFixed(1));
const fmtMn = (v: number) => (v === 0 ? '0' : String(parseFloat(Number(v).toFixed(4))));
const xy = (arr: number[][]) => arr.map(([x, y]) => ({ x, y }));

function buildE(cv: HTMLCanvasElement) {
  const datasets = [
    lineSet(xy(vestaE), GRAY_L, 2, 0, [], true),
    lineSet(xy(marsE), ORANGE, 2, 0, [], true),
    lineSet(xy(earthE), GREEN, 2, 0, [], true),
    lineSet(xy(moonE), SKY, 2.5, 0, [], true),
    pointSet(xy(pyroxeneFeMn), 'triangle', 4, ROSE, false, 1),
  ];
  return new Chart(cv, {
    type: 'scatter',
    data: { datasets } as any,
    options: baseOpts({ left: 37.9, right: W - 513, top: 856, bottom: 24 }, {
      x: xAxis(0, 2, 0.2),
      y: yAxis(0, 0.03, 0.005, 3, 62),
    }) as any,
    plugins: [drawPlugin('labE', (chart, ctx) => {
      frame(chart, ctx);
      innerXTicks(chart, ctx, 5);
      tickLabels(chart, ctx, fmtFe, fmtMn, 15, 2.5);
      const xs = chart.scales.x, ys = chart.scales.y;
      const lab = (s: string, fe: number, mn: number, rot: number) => T(ctx, s, xs.getPixelForValue(fe), ys.getPixelForValue(mn), 16.5, { rot });
      lab('Vesta', 0.75, 0.0276, -53);
      lab('Mars', 0.892, 0.0274, -52);
      lab('Earth', 1.0, 0.0251, -53);
      lab('Moon', 1.708, 0.0216, -37);
      T(ctx, 'e', 31.7, 866.7, 22, { reg: true });
      T(ctx, 'Mn (afu)', 36.2, 1035, 18, { rot: -90 });
      T(ctx, 'Fe (afu)', 302.3, 1258.3, 18);
      ctx.save(); ctx.fillStyle = '#fff'; ctx.fillRect(341, 1163, 126, 24); ctx.restore();
      box(ctx, 341, 1163, 467, 1187);
      mark(ctx, 'tri', 348.5, 1176, 4.2, ROSE, false);
      T(ctx, 'Pyroxene in CE-5', 356, 1175.3, 15.8, { align: 'left' });
    })],
  });
}

function buildF(cv: HTMLCanvasElement) {
  const datasets = [
    lineSet(xy(chondriteF), GRAY_L, 2, 0, [], true),
    lineSet(xy(marsF), ORANGE, 2, 0, [], true),
    lineSet(xy(earthF), GREEN, 2, 0, [], true),
    lineSet(xy(moonF), SKY, 2.5, 0, [], true),
    pointSet(xy(olivineFeMn), 'rectRot', 3.8, ROSE, false, 1),
  ];
  return new Chart(cv, {
    type: 'scatter',
    data: { datasets } as any,
    options: baseOpts({ left: 588.6, right: W - 1062, top: 854, bottom: 26.3 }, {
      x: xAxis(0, 2, 0.2),
      y: yAxis(0, 0.03, 0.005, 5, 62),
    }) as any,
    plugins: [drawPlugin('labF', (chart, ctx) => {
      frame(chart, ctx);
      innerXTicks(chart, ctx, 5);
      tickLabels(chart, ctx, fmtFe, fmtMn, 14.6, 6.9);
      const xs = chart.scales.x, ys = chart.scales.y;
      const lab = (s: string, fe: number, mn: number, rot: number) => T(ctx, s, xs.getPixelForValue(fe), ys.getPixelForValue(mn), 16.2, { rot });
      lab('Ordinary chondrite', 1.005, 0.0246, -52);
      lab('Mars', 1.143, 0.0239, -47);
      lab('Earth', 1.37, 0.0231, -47);
      lab('Moon', 1.815, 0.0179, -40);
      T(ctx, 'f', 572.8, 868.3, 22, { reg: true });
      T(ctx, 'Mn (afu)', 585, 1033.3, 18, { rot: -90 });
      T(ctx, 'Fe (afu)', 851.1, 1253.3, 18);
      ctx.save(); ctx.fillStyle = '#fff'; ctx.fillRect(906, 1168, 105, 19); ctx.restore();
      box(ctx, 906, 1168, 1011, 1187);
      mark(ctx, 'diamond', 912.6, 1177, 4, ROSE, false);
      T(ctx, 'Olivine in CE-5', 918, 1177, 15.5, { align: 'left' });
    })],
  });
}

export default function App() {
  const refs = useRef<(HTMLCanvasElement | null)[]>([]);
  useEffect(() => {
    setupFonts();
    Chart.defaults.font.family = FONT;
    Chart.defaults.color = TXT;
    const c = refs.current as HTMLCanvasElement[];
    const charts = [buildA(c[0]), buildB(c[1]), buildC(c[2]), buildD(c[3]), buildE(c[4]), buildF(c[5])];
    return () => charts.forEach((ch) => ch.destroy());
  }, []);
  return (
    <div style={{ position: 'absolute', left: 0, top: 0, width: W, height: H, background: '#fff', overflow: 'hidden' }}>
      {[0, 1, 2, 3, 4, 5].map((i) => (
        <canvas
          key={i}
          ref={(el) => { refs.current[i] = el; }}
          width={W}
          height={H}
          style={{ position: 'absolute', left: 0, top: 0, width: W, height: H }}
        />
      ))}
    </div>
  );
}
